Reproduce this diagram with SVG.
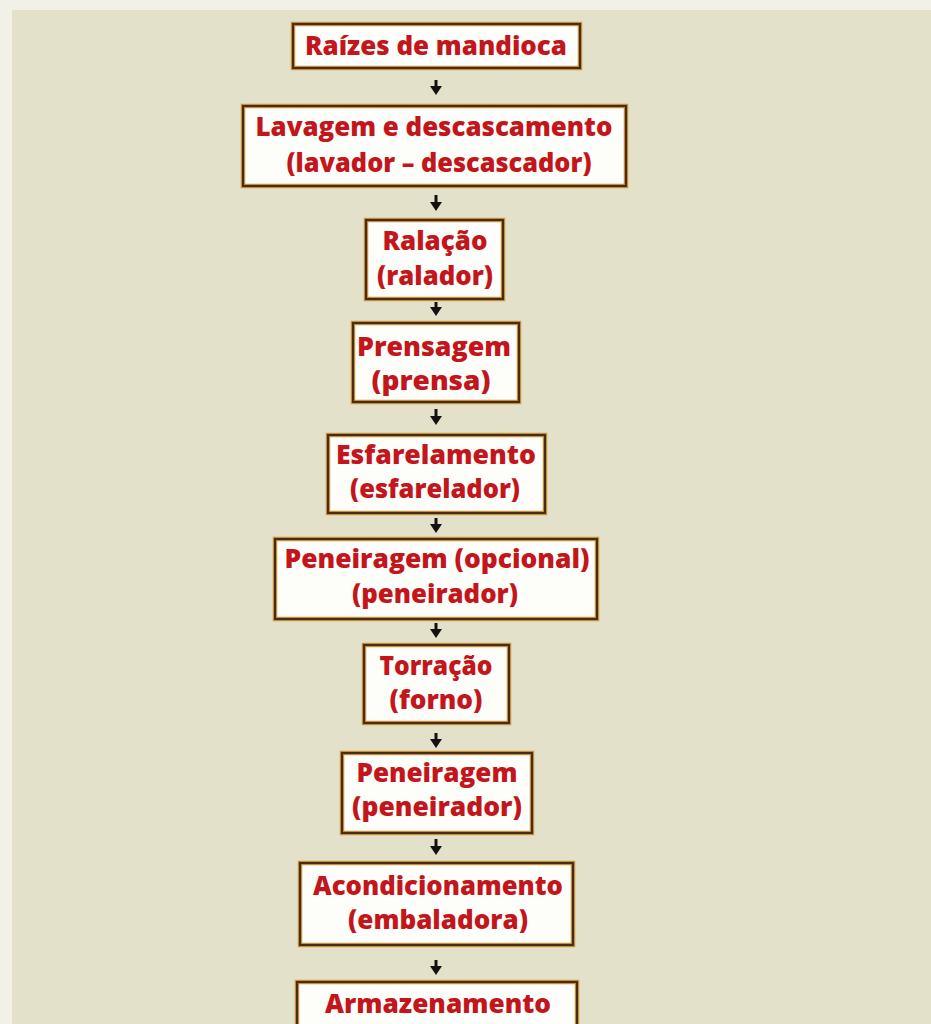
<svg xmlns="http://www.w3.org/2000/svg" width="931" height="1024" viewBox="0 0 931 1024">
<defs>
<style>
.bg{fill:#e3e1c9}
.glow{fill:#fdfdfa;stroke:#cf9a45;stroke-width:4.5}
.box{fill:none;stroke:#4a2c14;stroke-width:2.2}
.t{font-family:"Open Sans","Noto Sans","Liberation Sans",sans-serif;font-weight:800;font-size:27px;fill:#c3161c;text-anchor:middle}
.c{stroke:#141210;stroke-width:3;fill:none}
</style>
<marker id="ah" viewBox="0 0 9 12" refX="0" refY="6" markerWidth="9" markerHeight="12" markerUnits="userSpaceOnUse" orient="auto">
<path d="M0,0 L9,6 L0,12 z" fill="#141210"/>
</marker>
</defs>
<rect x="0" y="0" width="931" height="1024" fill="#f2f1e8"/>
<rect class="bg" x="12" y="10" width="919" height="1014"/>

<g id="connectors">
<line class="c" x1="436" y1="80" x2="436" y2="86" marker-end="url(#ah)"/>
<line class="c" x1="436" y1="195" x2="436" y2="202" marker-end="url(#ah)"/>
<line class="c" x1="436" y1="302" x2="436" y2="307" marker-end="url(#ah)"/>
<line class="c" x1="436" y1="409" x2="436" y2="416" marker-end="url(#ah)"/>
<line class="c" x1="436" y1="518" x2="436" y2="524" marker-end="url(#ah)"/>
<line class="c" x1="436" y1="623" x2="436" y2="629" marker-end="url(#ah)"/>
<line class="c" x1="436" y1="733" x2="436" y2="739" marker-end="url(#ah)"/>
<line class="c" x1="436" y1="839" x2="436" y2="846" marker-end="url(#ah)"/>
<line class="c" x1="436" y1="960" x2="436" y2="966" marker-end="url(#ah)"/>
</g>

<g id="n1">
<rect class="glow" x="293" y="24" width="287" height="44"/>
<rect class="box" x="293" y="24" width="287" height="44"/>
<text class="t" x="436" y="55" textLength="262" lengthAdjust="spacingAndGlyphs">Raízes de mandioca</text>
</g>
<g id="n2">
<rect class="glow" x="243" y="106" width="383" height="80"/>
<rect class="box" x="243" y="106" width="383" height="80"/>
<text class="t" x="434" y="136" textLength="357" lengthAdjust="spacingAndGlyphs">Lavagem e descascamento</text>
<text class="t" x="439" y="172" textLength="305" lengthAdjust="spacingAndGlyphs">(lavador – descascador)</text>
</g>
<g id="n3">
<rect class="glow" x="366" y="220" width="137" height="79"/>
<rect class="box" x="366" y="220" width="137" height="79"/>
<text class="t" x="435" y="250" textLength="105" lengthAdjust="spacingAndGlyphs">Ralação</text>
<text class="t" x="435" y="285" textLength="116" lengthAdjust="spacingAndGlyphs">(ralador)</text>
</g>
<g id="n4">
<rect class="glow" x="353" y="323" width="166" height="79"/>
<rect class="box" x="353" y="323" width="166" height="79"/>
<text class="t" x="434" y="356" textLength="154" lengthAdjust="spacingAndGlyphs">Prensagem</text>
<text class="t" x="431" y="390" textLength="119" lengthAdjust="spacingAndGlyphs">(prensa)</text>
</g>
<g id="n5">
<rect class="glow" x="328" y="435" width="217" height="78"/>
<rect class="box" x="328" y="435" width="217" height="78"/>
<text class="t" x="436" y="464" textLength="200" lengthAdjust="spacingAndGlyphs">Esfarelamento</text>
<text class="t" x="435" y="498" textLength="170" lengthAdjust="spacingAndGlyphs">(esfarelador)</text>
</g>
<g id="n6">
<rect class="glow" x="275" y="539" width="322" height="80"/>
<rect class="box" x="275" y="539" width="322" height="80"/>
<text class="t" x="437" y="568" textLength="305" lengthAdjust="spacingAndGlyphs">Peneiragem (opcional)</text>
<text class="t" x="435" y="603" textLength="166" lengthAdjust="spacingAndGlyphs">(peneirador)</text>
</g>
<g id="n7">
<rect class="glow" x="364" y="645" width="145" height="78"/>
<rect class="box" x="364" y="645" width="145" height="78"/>
<text class="t" x="436" y="675" textLength="113" lengthAdjust="spacingAndGlyphs">Torração</text>
<text class="t" x="436" y="709" textLength="93" lengthAdjust="spacingAndGlyphs">(forno)</text>
</g>
<g id="n8">
<rect class="glow" x="342" y="753" width="190" height="80"/>
<rect class="box" x="342" y="753" width="190" height="80"/>
<text class="t" x="437" y="782" textLength="161" lengthAdjust="spacingAndGlyphs">Peneiragem</text>
<text class="t" x="437" y="816" textLength="170" lengthAdjust="spacingAndGlyphs">(peneirador)</text>
</g>
<g id="n9">
<rect class="glow" x="300" y="863" width="273" height="82"/>
<rect class="box" x="300" y="863" width="273" height="82"/>
<text class="t" x="438" y="895" textLength="250" lengthAdjust="spacingAndGlyphs">Acondicionamento</text>
<text class="t" x="438" y="929" textLength="180" lengthAdjust="spacingAndGlyphs">(embaladora)</text>
</g>
<g id="n10">
<rect class="glow" x="297" y="982" width="280" height="60"/>
<rect class="box" x="297" y="982" width="280" height="60"/>
<text class="t" x="438" y="1013" textLength="226" lengthAdjust="spacingAndGlyphs">Armazenamento</text>
</g>
</svg>
